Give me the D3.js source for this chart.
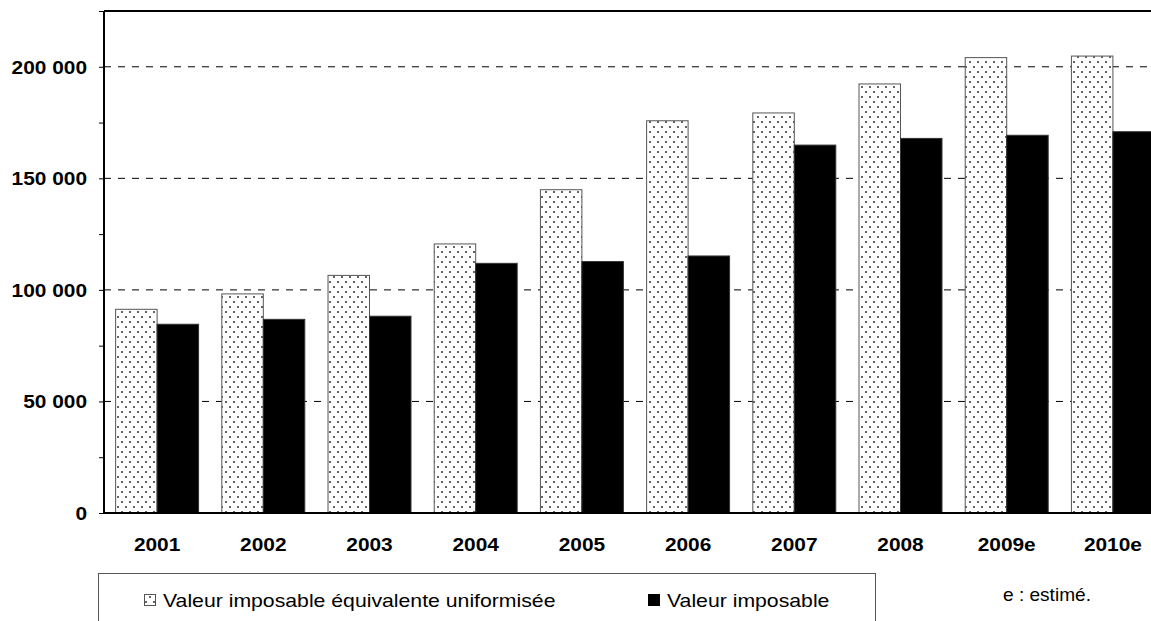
<!DOCTYPE html>
<html><head><meta charset="utf-8">
<script src="https://cdn.jsdelivr.net/npm/d3@7"></script>
<style>
html,body{margin:0;padding:0;background:#fff;}
svg{display:block;font-family:"Liberation Sans",Arial,sans-serif;}
</style></head>
<body>
<svg id="c" width="1151" height="621"></svg>
<script>
const categories = ["2001","2002","2003","2004","2005","2006","2007","2008","2009e","2010e"];
const seriesNames = ["Valeur imposable équivalente uniformisée","Valeur imposable"];
const valeurEquivalente = [91300, 98200, 106500, 120600, 144900, 175800, 179300, 192300, 204100, 204800];
const valeurImposable   = [84600, 86800, 88200, 111900, 112700, 115200, 164900, 167900, 169300, 170900];
const yTicks = [0, 50000, 100000, 150000, 200000];
const yMinorTicks = [25000, 75000, 125000, 175000, 225000];
const note = "e : estimé.";

(function(){
const svg = d3.select("#c");
const pLeft = 104, pRight = 1166, pTop = 11, pBottom = 513;
const SX = 1.16; // horizontal text stretch seen in the reference

const defs = svg.append("defs");
const pat = defs.append("pattern").attr("id","dots").attr("patternUnits","userSpaceOnUse")
  .attr("width",8).attr("height",10);
pat.append("rect").attr("width",8).attr("height",10).attr("fill","#fff");
pat.append("circle").attr("cx",2).attr("cy",2).attr("r",0.95).attr("fill","#222");
pat.append("circle").attr("cx",6).attr("cy",7).attr("r",0.95).attr("fill","#222");

const x0 = d3.scaleBand().domain(categories).range([pLeft, pRight]).padding(0);
const x1 = d3.scaleBand().domain(seriesNames).range([0, x0.bandwidth()]).paddingInner(0).paddingOuter(0.28);
const y = d3.scaleLinear().domain([0, 225000]).range([pBottom, pTop]);

const fr = d3.formatLocale({decimal:",", thousands:" ", grouping:[3], currency:["","€"]}).format(",d");

// gridlines
svg.append("g").selectAll("line").data(yTicks.filter(d=>d>0)).join("line")
  .attr("x1",pLeft).attr("x2",1151).attr("y1",d=>y(d)).attr("y2",d=>y(d))
  .attr("stroke","#000").attr("stroke-width",1).attr("stroke-dasharray","7,7");

// bars
const data = categories.map((c,i)=>({c, vals:[valeurEquivalente[i], valeurImposable[i]]}));
const g = svg.append("g");
data.forEach(d=>{
  d.vals.forEach((v,j)=>{
    g.append("rect")
      .attr("x", x0(d.c) + x1(seriesNames[j]))
      .attr("y", y(v))
      .attr("width", x1.bandwidth())
      .attr("height", y(0)-y(v))
      .attr("fill", j===0 ? "url(#dots)" : "#000")
      .attr("stroke", j===0 ? "#555" : "#333")
      .attr("stroke-width", 1);
  });
});

function stretch(sel, s){
  sel.each(function(){
    const t = d3.select(this);
    const x = +t.attr("x") || 0, yy = +t.attr("y") || 0;
    t.attr("x",0).attr("y",0).attr("transform",`translate(${x},${yy}) scale(${s||SX},1)`);
  });
}

// y axis
const yAxis = d3.axisLeft(y).tickValues(yTicks).tickFormat(fr).tickSize(5).tickPadding(12);
const ya = svg.append("g").attr("transform",`translate(${pLeft},0)`).call(yAxis);
ya.select(".domain").remove();
ya.selectAll(".tick line").attr("stroke","#000");
ya.selectAll("text").attr("font-size",18).attr("font-weight","bold").attr("fill","#000")
  .attr("font-family","'Liberation Sans',Arial,sans-serif").attr("x",-17).attr("dy","0.35em");
stretch(ya.selectAll("text"));
const ym = d3.axisLeft(y).tickValues(yMinorTicks).tickFormat("").tickSize(5);
const yma = svg.append("g").attr("transform",`translate(${pLeft},0)`).call(ym);
yma.select(".domain").remove();

// x axis labels
const xAxis = d3.axisBottom(x0).tickSize(0);
const xa = svg.append("g").attr("transform",`translate(0,${pBottom})`).call(xAxis);
xa.select(".domain").remove();
xa.selectAll("text").attr("font-size",18).attr("font-weight","bold").attr("fill","#000")
  .attr("font-family","'Liberation Sans',Arial,sans-serif").attr("y",38).attr("dy",0);
stretch(xa.selectAll("text"));

// frame
svg.append("line").attr("x1",pLeft).attr("x2",1151).attr("y1",pTop).attr("y2",pTop).attr("stroke","#000").attr("stroke-width",2);
svg.append("line").attr("x1",pLeft).attr("x2",pLeft).attr("y1",pTop).attr("y2",pBottom+1).attr("stroke","#000").attr("stroke-width",2);
svg.append("line").attr("x1",pLeft-1).attr("x2",1151).attr("y1",pBottom).attr("y2",pBottom).attr("stroke","#000").attr("stroke-width",2);

// legend
svg.append("rect").attr("x",98.5).attr("y",573.5).attr("width",777).attr("height",60)
  .attr("fill","none").attr("stroke","#555").attr("stroke-width",1);
const leg = [{x:144, name:seriesNames[0], fill:"url(#dots)", stroke:"#555"},{x:648, name:seriesNames[1], fill:"#000", stroke:"#000"}];
const legTexts = [];
leg.forEach(l=>{
  svg.append("rect").attr("x",l.x+0.5).attr("y",594.5).attr("width",11).attr("height",11)
    .attr("fill",l.fill).attr("stroke",l.stroke).attr("stroke-width",1);
  legTexts.push(svg.append("text").attr("x",l.x+19).attr("y",606.5).attr("font-size",18).attr("fill","#000").text(l.name).node());
});
stretch(d3.selectAll(legTexts), 1.18);
const nt = svg.append("text").attr("x",1003).attr("y",601).attr("font-size",18).attr("fill","#000").text(note);
stretch(nt, 1.06);
})();
</script>
</body></html>
